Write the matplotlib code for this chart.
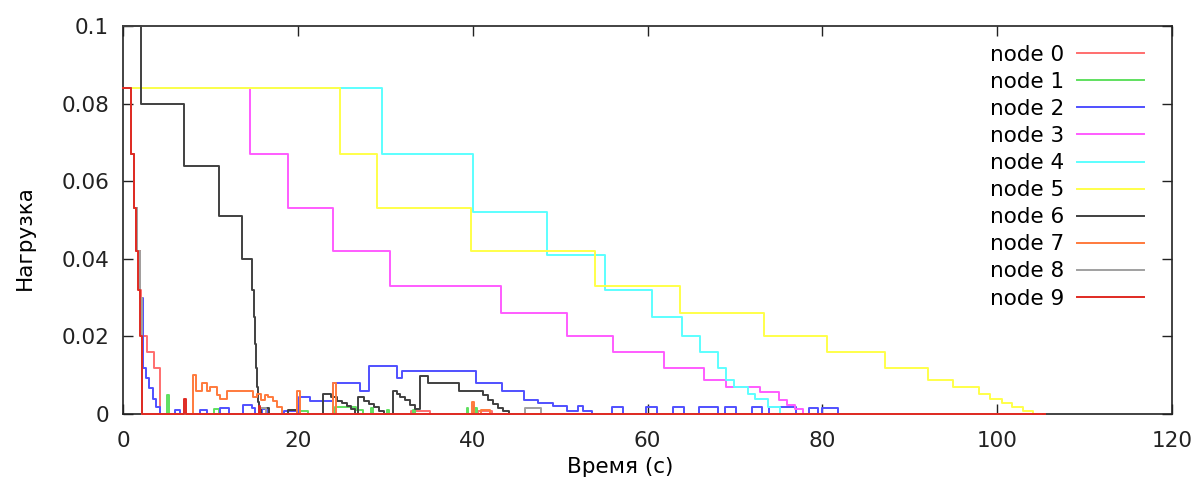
import matplotlib
matplotlib.use("Agg")
import matplotlib.pyplot as plt
from matplotlib.ticker import FuncFormatter

# (time s, load) step points, value holds until next time
node0 = [(0, 0.084), (0.9, 0.067), (1.2, 0.053), (1.5, 0.042), (1.8, 0.032), (2.1, 0.020),
         (2.7, 0.016), (3.5, 0.012), (4.2, 0), (33.0, 0.0009), (35.1, 0), (40.6, 0.0009),
         (42.2, 0), (105, 0)]
node1 = [(0, 0.084), (0.9, 0.067), (1.3, 0.053), (1.6, 0.042), (1.9, 0.030), (2.2, 0),
         (5.0, 0.005), (5.3, 0), (10.4, 0.0012), (11.0, 0), (19.9, 0.0008), (21.2, 0),
         (24.3, 0.0017), (26.7, 0.001), (27.5, 0), (28.4, 0.0015), (28.6, 0), (30.2, 0.001),
         (30.4, 0), (33.2, 0.001), (33.4, 0), (39.3, 0.0015), (39.5, 0), (40.3, 0.0015),
         (40.5, 0), (105, 0)]
node2 = [(0, 0.084), (0.9, 0.067), (1.3, 0.053), (1.6, 0.042), (1.9, 0.030), (2.25, 0.012),
         (2.6, 0.0092), (3.0, 0.0066), (3.4, 0.004), (3.8, 0.0019), (4.2, 0), (6.0, 0.001),
         (6.5, 0), (8.8, 0.001), (9.6, 0), (11.1, 0.0015), (12.1, 0), (13.7, 0.0023),
         (14.7, 0.0015), (15.1, 0), (15.9, 0.0012), (16.5, 0), (18.4, 0.0008), (19.9, 0),
         (20.1, 0.0043), (21.4, 0.0033), (24.0, 0.0081), (27.1, 0.006), (28.1, 0.0123),
         (31.3, 0.0092), (31.9, 0.0112), (40.4, 0.0081), (43.4, 0.006), (45.9, 0.0036),
         (47.5, 0.0029), (49.2, 0.0021), (50.8, 0.0009), (52.1, 0.002), (52.6, 0.0009),
         (53.6, 0), (55.9, 0.0018), (57.2, 0), (59.8, 0.0018), (61.1, 0), (62.9, 0.0018),
         (64.2, 0), (65.9, 0.0018), (68.1, 0), (68.9, 0.0018), (70.1, 0), (71.9, 0.0018),
         (73.1, 0), (73.9, 0.0018), (77.0, 0), (78.5, 0.0015), (79.5, 0), (80.0, 0.0015),
         (81.8, 0), (105, 0)]
node3 = [(0, 0.084), (14.5, 0.067), (18.9, 0.053), (24.0, 0.042), (30.5, 0.033), (43.2, 0.026),
         (50.8, 0.020), (56.1, 0.016), (61.9, 0.012), (66.5, 0.0089), (69.0, 0.0069),
         (72.9, 0.0057), (75.0, 0.0036), (75.9, 0.0023), (76.9, 0.0012), (77.8, 0), (105, 0)]
node4 = [(0, 0.084), (29.6, 0.067), (40.0, 0.052), (48.5, 0.041), (55.1, 0.032), (60.5, 0.025),
         (63.9, 0.020), (66.0, 0.016), (68.1, 0.012), (69.0, 0.0089), (69.9, 0.007),
         (71.5, 0.0052), (72.3, 0.0039), (73.8, 0.0019), (75.2, 0), (105, 0)]
node5 = [(0, 0.084), (24.8, 0.067), (29.0, 0.053), (39.8, 0.042), (54.0, 0.033), (63.7, 0.026),
         (73.3, 0.020), (80.5, 0.016), (87.2, 0.012), (92.1, 0.0089), (95.0, 0.007),
         (97.9, 0.0053), (99.2, 0.0039), (100.5, 0.0028), (101.7, 0.0019), (103.0, 0.0009),
         (104.1, 0), (105, 0)]
node6 = [(0, 0.1), (2.0, 0.08), (7.0, 0.064), (11.0, 0.051), (13.65, 0.040), (14.8, 0.032),
         (15.0, 0.025), (15.1, 0.018), (15.2, 0.012), (15.3, 0.007), (15.4, 0.003), (15.5, 0),
         (15.8, 0.0015), (16.7, 0), (18.9, 0.001), (19.9, 0), (22.9, 0.0053), (23.8, 0.0043),
         (24.5, 0.0034), (25.1, 0.0028), (25.6, 0.002), (26.1, 0.0012), (26.5, 0),
         (26.9, 0.0043), (27.6, 0.0034), (28.1, 0.0026), (28.7, 0.0018), (29.3, 0.0009),
         (29.8, 0), (30.9, 0.006), (31.3, 0.0053), (31.7, 0.0045), (32.2, 0.0036),
         (32.8, 0.0024), (33.4, 0.0014), (34.0, 0.0097), (34.9, 0.008), (38.4, 0.006),
         (41.2, 0.0049), (41.8, 0.0036), (42.3, 0.0026), (42.9, 0.0015), (43.5, 0.0009),
         (44.1, 0), (105, 0)]
node7 = [(0, 0.084), (0.9, 0.067), (1.3, 0.053), (1.6, 0.042), (1.9, 0.030), (2.2, 0),
         (8.0, 0.010), (8.35, 0.006), (9.0, 0.008), (9.6, 0.006), (10.0, 0.007), (10.7, 0.005),
         (11.1, 0.004), (11.9, 0.006), (14.9, 0.0043), (15.3, 0.0053), (15.8, 0.0036),
         (16.2, 0.0048), (16.6, 0.0043), (17.2, 0.0034), (17.6, 0.0017), (18.2, 0),
         (19.9, 0.006), (20.2, 0), (24.0, 0.0081), (24.4, 0), (39.9, 0.003), (40.1, 0),
         (41.0, 0.001), (42.0, 0), (105, 0)]
node8 = [(0, 0.084), (0.9, 0.067), (1.3, 0.053), (1.6, 0.042), (1.9, 0.030), (2.2, 0),
         (15.6, 0.0015), (16.4, 0), (46.0, 0.0015), (47.8, 0), (105, 0)]
node9 = [(0, 0.084), (0.9, 0.067), (1.2, 0.053), (1.5, 0.042), (1.7, 0.032), (1.9, 0.020),
         (2.2, 0), (7.0, 0.004), (7.2, 0), (15.5, 0.002), (15.7, 0), (105.5, 0)]

series = [node0, node1, node2, node3, node4, node5, node6, node7, node8, node9]
labels = [f"node {i}" for i in range(10)]
colors = ["#ff6e6e", "#5fe05f", "#5050ff", "#ff5cff", "#5cffff", "#ffff4a",
          "#404040", "#ff7a3c", "#a0a0a0", "#e02a22"]

x_ticks = [0, 20, 40, 60, 80, 100, 120]
y_ticks = [0, 0.02, 0.04, 0.06, 0.08, 0.1]

plt.rcParams["font.family"] = ["DejaVu Sans"]

fig = plt.figure(figsize=(11.99, 4.86), dpi=100)
ax = fig.add_axes([0.1026, 0.148, 0.8749, 0.7985])

for pts, lab, col in zip(series, labels, colors):
    t = [p[0] for p in pts]
    v = [p[1] for p in pts]
    ax.step(t, v, where="post", color=col, lw=1.4, label=lab, zorder=3, clip_on=False)

ax.set_xlim(0, 120)
ax.set_ylim(0, 0.1)
ax.set_xticks(x_ticks)
ax.set_yticks(y_ticks)
ax.yaxis.set_major_formatter(FuncFormatter(lambda v, _: f"{v:g}"))
ax.tick_params(direction="in", length=7, width=1, top=True, right=True,
               labelsize=15.5, pad=10, colors="#222222")
ax.tick_params(axis="x", pad=12)
for sp in ax.spines.values():
    sp.set_linewidth(1.2)
    sp.set_color("#222222")

ax.set_xlabel("Время (с)", fontsize=15.5, va="top")
ax.xaxis.set_label_coords(0.474, -0.11)
ax.set_ylabel("Нагрузка", fontsize=15.5)
ax.yaxis.set_label_coords(-0.084, 0.455)

leg = ax.legend(loc="upper right", bbox_to_anchor=(0.973, 0.952), frameon=False,
                markerfirst=False, fontsize=15.5, handlelength=3.1, handletextpad=0.6,
                labelspacing=0.33, borderpad=0, borderaxespad=0)

fig.savefig("out.png", dpi=100)
